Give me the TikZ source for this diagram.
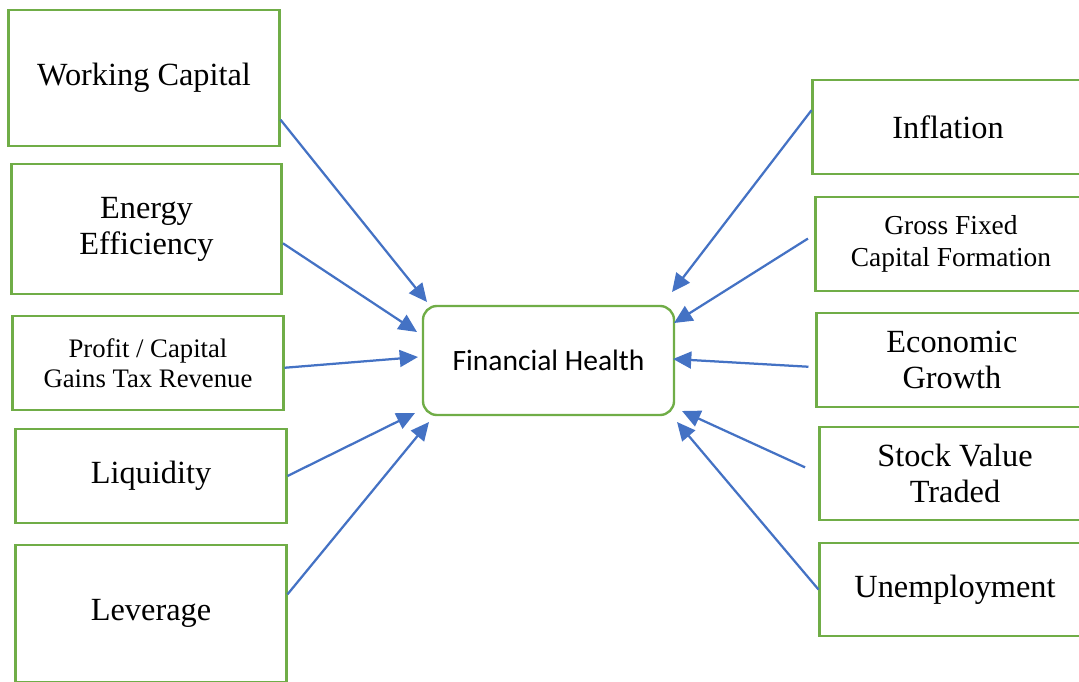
\documentclass[tikz,border=0pt]{standalone}
\usepackage{fontspec}
\setmainfont{Liberation Serif}
\newfontfamily\calibri{Carlito}
\usetikzlibrary{arrows.meta}
\definecolor{boxgreen}{RGB}{112,173,71}
\definecolor{arrowblue}{RGB}{68,114,196}
\begin{document}
\begin{tikzpicture}[x=0.025cm,y=-0.025cm,
        factor/.style={draw=boxgreen,line width=2.1pt,fill=white,align=center,minimum width=6.75cm,font=\fontsize{23}{25.5}\selectfont},
        health/.style={draw=boxgreen,line width=1.7pt,rounded corners=10pt,minimum width=6.275cm,minimum height=2.725cm,font=\calibri\fontsize{21}{24}\selectfont},
        link/.style={arrowblue,line width=1.6pt,-{Triangle[length=13pt,width=12pt]}}]

                    \useasboundingbox (0,0) rectangle (1079,682);

                    % firm level factors
                    \node (wc) at (144,78) [factor,minimum height=3.4cm] {Working Capital};
                    \node (ee) at (146.5,229) [factor,minimum height=3.25cm] {Energy\\Efficiency};
                    \node (pr) at (148,363) [factor,minimum height=2.35cm,font=\fontsize{19}{21}\selectfont] {Profit / Capital\\Gains Tax Revenue};
                    \node (lq) at (151,476) [factor,minimum height=2.35cm] {Liquidity};
                    \node (lv) at (151,613.5) [factor,minimum height=3.425cm] {Leverage};

                    \node (fh) at (548.5,360.5) [health] {Financial Health};

                    % macro factors
                    \node (in) at (948,127) [factor,minimum height=2.35cm] {Inflation};
                    \node (gf) at (951,244) [factor,minimum height=2.35cm,font=\fontsize{19.5}{22.5}\selectfont] {Gross Fixed\\Capital Formation};
                    \node (eg) at (952,360) [factor,minimum height=2.35cm] {Economic\\Growth};
                    \node (sv) at (955,473.5) [factor,minimum height=2.325cm] {Stock Value\\Traded};
                    \node (un) at (955,589.5) [factor,minimum height=2.325cm] {Unemployment};

                    % arrow tips around the centre box
                    \coordinate (wc-tip) at (427,302);
                    \coordinate (ee-tip) at (417,332);
                    \coordinate (pr-tip) at (418,357);
                    \coordinate (lq-tip) at (415,413);
                    \coordinate (lv-tip) at (429,422);
                    \coordinate (in-tip) at (672,292);
                    \coordinate (gf-tip) at (674,323);
                    \coordinate (eg-tip) at (673,359);
                    \coordinate (sv-tip) at (682,411);
                    \coordinate (un-tip) at (677,422);

                    \draw[link] (wc.-17) -- (wc-tip);
                    \draw[link] (ee.-6) -- (ee-tip);
                    \draw[link] (pr.-2) -- (pr-tip);
                    \draw[link] (lq.east) -- (lq-tip);
                    \draw[link] (lv.8) -- (lv-tip);
                    \draw[link] (in.173) -- (in-tip);
                    \draw[link,shorten <=5.5pt] (gf.176) -- (gf-tip);
                    \draw[link,shorten <=5pt] (eg.183) -- (eg-tip);
                    \draw[link,shorten <=10.5pt] (sv.west) -- (sv-tip);
                    \draw[link] (un.west) -- (un-tip);
                \end{tikzpicture}
\end{document}
